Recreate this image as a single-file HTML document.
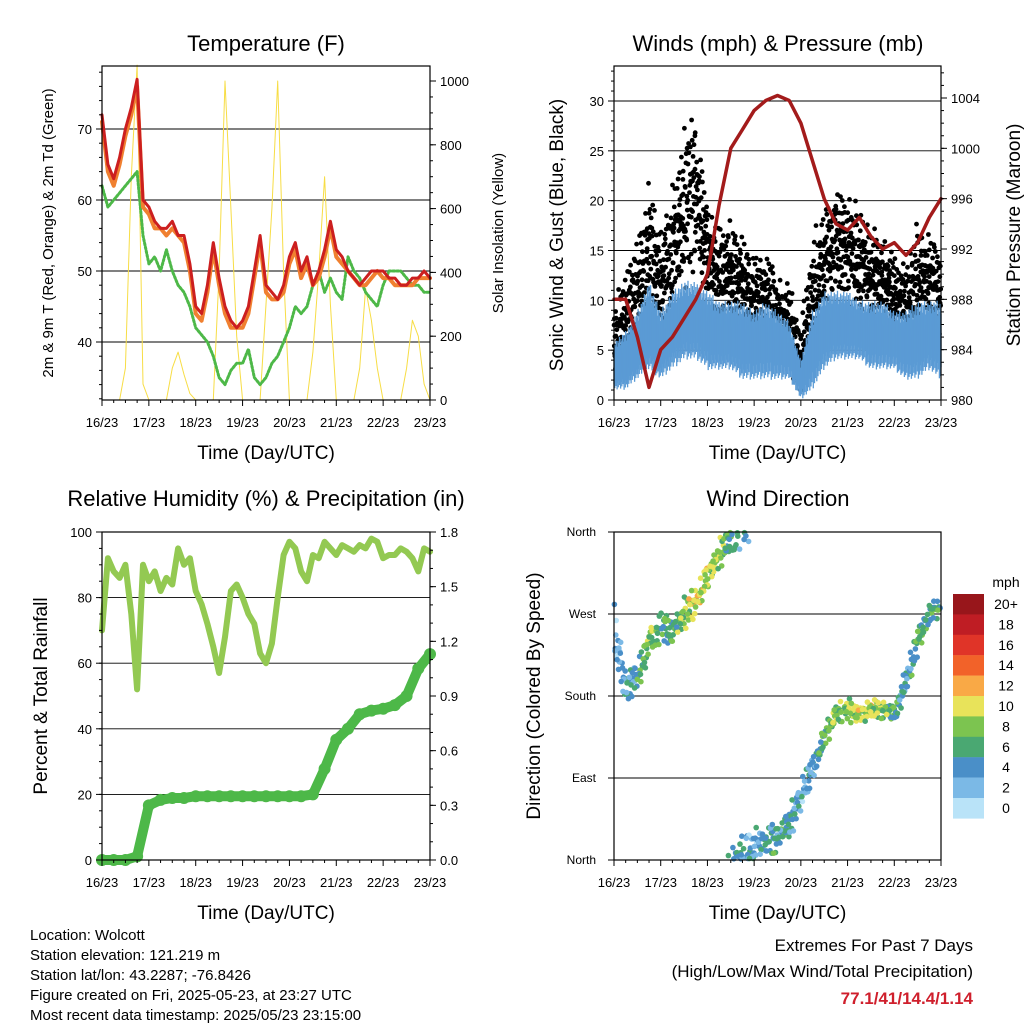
<!DOCTYPE html>
<html><head><meta charset="utf-8">
<style>
html,body{margin:0;padding:0;background:#fff;}
svg{display:block;font-family:"Liberation Sans",Arial,sans-serif;}
</style></head>
<body>
<svg id="root" width="1024" height="1024" viewBox="0 0 1024 1024" xmlns="http://www.w3.org/2000/svg"></svg>
<script>
// ---------- DATA (3-hourly, 16/23 -> 23/23) ----------
const xTickLabels = ["16/23","17/23","18/23","19/23","20/23","21/23","22/23","23/23"];
const tempRed = [72,65,63,66,70,73,77,60,59,57,56,56,57,55,55,51,45,44,48,54,49,45,43,42,43,45,50,55,48,47,46,48,52,54,50,52,48,50,53,57,53,52,50,49,48,49,50,50,50,49,49,48,48,49,49,50,49];
const tempOrange = [71,64,62,65,69,72,76,59,58,56,56,55,56,55,54,50,44,43,47,53,48,44,42,42,42,44,49,54,47,46,46,47,51,53,49,51,48,49,52,56,52,51,50,49,48,48,49,50,49,49,48,48,48,48,49,49,49];
const dewGreen = [62,59,60,61,62,63,64,55,51,52,50,53,50,48,47,45,42,41,40,38,35,34,36,37,37,39,35,34,35,37,38,40,42,45,44,45,48,50,47,49,47,46,52,50,49,47,46,45,48,50,50,50,49,48,48,47,47];
const solar = [0,0,0,0,100,700,1050,50,0,0,0,0,100,150,80,20,0,0,0,0,400,1000,600,200,0,0,0,0,300,600,1000,400,0,0,0,0,150,400,700,300,0,0,0,0,100,350,250,100,0,0,0,0,100,250,200,50,0];
const tempTicks = [40,50,60,70];
const solarTicks = [0,200,400,600,800,1000];
// 6-hourly series
const pressure = [988,988,985,981,984,985,986.5,988,990,995.5,1000,1001.5,1003,1003.8,1004.2,1003.8,1002,999,996,994,993.5,994.5,993,992,992.5,991.5,992.5,994.5,996];
const gustHi = [10,14,17,23,18,22,28,31,20,18,19,17,15,16,13,12,8,17,20,22,21,20,18,17,15,14,19,17,17];
const gustLo = [1,2,4,7,5,8,10,12,9,7,7,6,5,5,4,3,0,3,8,10,9,8,7,7,6,5,5,7,5];
const windHi = [6,7,9,12,9,11,12,12,11,10,10,10,9,10,9,8,4,9,11,11,11,10,10,10,9,9,10,10,10];
const windLo = [1,1,2,3,2,3,4,4,3,3,3,2,2,2,2,2,0,1,3,4,4,4,3,3,3,2,2,3,2];
const windTicks = [0,5,10,15,20,25,30];
const pressTicks = [980,984,988,992,996,1000,1004];
const rhVals = [70,92,88,86,90,75,52,90,85,88,82,86,84,95,90,92,82,78,72,65,57,68,82,84,80,75,72,63,60,66,80,93,97,95,88,85,93,92,97,95,93,96,95,94,96,95,98,97,92,93,93,95,94,92,88,95,94];
const precip = [0,0,0,0.02,0.3,0.33,0.34,0.34,0.35,0.35,0.35,0.35,0.35,0.35,0.35,0.35,0.35,0.35,0.36,0.5,0.66,0.72,0.8,0.82,0.83,0.85,0.9,1.05,1.13];
const rhTicks = [0,20,40,60,80,100];
const precipTicks = ["0.0","0.3","0.6","0.9","1.2","1.5","1.8"];
const dirUnwrapped = [250,190,200,240,255,250,270,285,310,335,355,365,375,380,385,400,430,460,495,520,525,520,525,525,520,555,600,630,640];
const dirSpread = [60,20,20,25,20,20,20,20,20,20,25,25,25,20,20,20,20,20,15,15,15,12,12,12,12,20,20,15,12];
const dirSpeed = [2,4,5,8,6,6,8,10,9,8,6,4,3,4,5,5,3,4,6,8,8,9,9,8,6,4,6,6,5];
const dirLabels = ["North","East","South","West","North"];
const cbLabels = ["20+","18","16","14","12","10","8","6","4","2","0"];
const cbColors = ["#98161b","#bf1d24","#e03428","#f26229","#f9a946","#e8e35a","#7cc450","#4aa872","#4a8fc8","#7bb9e6","#b9e3f8"];

// ---------- helpers ----------
const NS="http://www.w3.org/2000/svg";
const root=document.getElementById('root');
function mk(tag,attrs,parent){const e=document.createElementNS(NS,tag);for(const k in attrs)e.setAttribute(k,attrs[k]);(parent||root).appendChild(e);return e;}
function txt(s,x,y,size,anchor,parent,extra){const e=mk('text',Object.assign({x:x,y:y,'font-size':size,'text-anchor':anchor||'middle',fill:'#000'},extra||{}),parent);e.textContent=s;return e;}
function lin(d0,d1,r0,r1){return v=>r0+(v-d0)*(r1-r0)/(d1-d0);}
// van der Corput low-discrepancy sequence (deterministic sampling positions)
function vdc(n,b){let r=0,f=1/b;while(n>0){r+=f*(n%b);n=Math.floor(n/b);f/=b;}return r;}

function panelFrame(name){
  const g=mk('g',{});
  
  
  return g;
}
function box(g,L,T,R,B){
  const r=mk('rect',{x:L,y:T,width:R-L,height:B-T,fill:'none',stroke:'#000','stroke-width':1.2},g);
  
  
}
function xAxis(g,L,R,B){
  const xs=lin(0,7,L,R);
  const ax=mk('g',{},g);
  
  
  for(let i=0;i<=28;i++){const x=L+(R-L)*i/28;mk('line',{x1:x,x2:x,y1:B,y2:B+(i%4==0?6:3),stroke:'#000','stroke-width':1},ax);}
  xTickLabels.forEach((s,i)=>{const t=txt(s,xs(i),B+27,13,'middle',ax);});
  const t=txt('Time (Day/UTC)',(L+R)/2,B+59,19,'middle',ax);
  
  
}
function yAxis(g,side,X,T,B,scale,ticks,labels,minorStep,minorRange,name){
  const ax=mk('g',{},g);
  
  
  const dir=side=='left'?-1:1;
  if(minorStep){for(let v=minorRange[0];v<=minorRange[1]+1e-9;v+=minorStep){const y=scale(v);if(y<T-0.5||y>B+0.5)continue;mk('line',{x1:X,x2:X+dir*3,y1:y,y2:y,stroke:'#000','stroke-width':1},ax);}}
  ticks.forEach((v,i)=>{const y=scale(v);mk('line',{x1:X,x2:X+dir*6,y1:y,y2:y,stroke:'#000','stroke-width':1},ax);
    const t=txt(labels?labels[i]:String(v),X+dir*10,y+5,13,side=='left'?'end':'start',ax);
    
    });
}
function grid(g,L,R,ys){ys.forEach(y=>{mk('line',{x1:L,x2:R,y1:y,y2:y,stroke:'#000','stroke-width':0.9},g);});}
function vtitle(g,s,x,y,size,name){const t=txt(s,x,y,size,'middle',g,{transform:'rotate(-90 '+x+' '+y+')'});return t;}
function title(g,s,x,y){const t=txt(s,x,y,22,'middle',g);}
function poly(g,pts,color,w,name){const p=mk('polyline',{points:pts.map(p=>p[0].toFixed(1)+','+p[1].toFixed(1)).join(' '),fill:'none',stroke:color,'stroke-width':w,'stroke-linejoin':'round','stroke-linecap':'round'},g);return p;}

// ---------- Panel 1: Temperature ----------
(function(){
  const L=102,T=66,R=430,B=400;
  const g=panelFrame('temperature-panel');
  const y=lin(40,70,342,129), ys=lin(0,1000,400,81);
  const xt=lin(0,tempRed.length-1,L,R);
  grid(g,L,R,tempTicks.map(y));
  poly(g,solar.map((v,i)=>[xt(i),ys(v)]),'#f7dd45',1,'solar-insolation-line');
  poly(g,dewGreen.map((v,i)=>[xt(i),y(v)]),'#4db848',3,'dewpoint-line').setAttribute('stroke-dasharray','2 2');
  poly(g,tempOrange.map((v,i)=>[xt(i),y(v)]),'#f08030',4,'temp-9m-line');
  poly(g,tempRed.map((v,i)=>[xt(i),y(v)]),'#cc1f1f',3,'temp-2m-line');
  box(g,L,T,R,B);
  yAxis(g,'left',L,T,B,y,tempTicks,null,2,[32,78],'temp-y-axis');
  yAxis(g,'right',R,T,B,ys,solarTicks,null,50,[0,1050],'solar-y-axis');
  xAxis(g,L,R,B);
  title(g,'Temperature (F)',266,51);
  vtitle(g,'2m & 9m T (Red, Orange) & 2m Td (Green)',53,233,15,'temp-y-axis-title');
  vtitle(g,'Solar Insolation (Yellow)',503,233,15,'solar-y-axis-title');
})();

// ---------- Panel 2: Winds & Pressure ----------
(function(){
  const L=614,T=66,R=941,B=400;
  const g=panelFrame('winds-panel');
  const y=lin(0,30,400,101), yp=lin(980,1004,400,98);
  const n=gustHi.length, xt=lin(0,n-1,L,R);
  grid(g,L,R,windTicks.map(y));
  const gd=mk('g',{fill:'#000'},g);
  
  
  let k=0;
  const N=(n-1)*55;
  for(let m=1;m<=N;m++){
    const pos=vdc(m,3)*(n-1);const i=Math.min(n-2,Math.floor(pos));const t=pos-i;
    const hi=gustHi[i]+(gustHi[i+1]-gustHi[i])*t, lo=gustLo[i]+(gustLo[i+1]-gustLo[i])*t;
    const f=(vdc(m,2)+vdc(m,5))/2;
    mk('circle',{cx:xt(pos).toFixed(1),cy:y(lo+(hi-lo)*f).toFixed(1),r:2.4},gd);
  }
  // ragged blue wind band
  const wd=mk('g',{stroke:'#5b9bd5','stroke-width':1.3},g);
  
  
  const NW=(n-1)*30;
  for(let m=0;m<=NW;m++){
    const pos=m/NW*(n-1);const i=Math.min(n-2,Math.floor(pos));const t=pos-i;
    const hi=windHi[i]+(windHi[i+1]-windHi[i])*t, lo=windLo[i]+(windLo[i+1]-windLo[i])*t;
    const a=vdc(m+1,2), b=vdc(m+1,3);
    const top=lo+(hi-lo)*(0.6+0.4*a), bot=lo+(hi-lo)*(0.35*b);
    mk('line',{x1:xt(pos).toFixed(1),x2:xt(pos).toFixed(1),y1:y(top).toFixed(1),y2:y(bot).toFixed(1)},wd);
  }
  poly(g,pressure.map((v,i)=>[xt(i),yp(v)]),'#a31b1b',3.5,'pressure-line');
  box(g,L,T,R,B);
  yAxis(g,'left',L,T,B,y,windTicks,null,1,[0,33],'wind-y-axis');
  yAxis(g,'right',R,T,B,yp,pressTicks,null,1,[980,1006],'pressure-y-axis');
  xAxis(g,L,R,B);
  title(g,'Winds (mph) & Pressure (mb)',778,51);
  vtitle(g,'Sonic Wind & Gust (Blue, Black)',563,235,19,'wind-y-axis-title');
  vtitle(g,'Station Pressure (Maroon)',1020,235,19,'pressure-y-axis-title');
})();

// ---------- Panel 3: RH & Precip ----------
(function(){
  const L=102,T=532,R=430,B=860;
  const g=panelFrame('humidity-panel');
  const y=lin(0,100,860,532), yp=lin(0,1.8,860,532);
  grid(g,L,R,rhTicks.map(y));
  const xr=lin(0,rhVals.length-1,L,R);
  poly(g,rhVals.map((v,i)=>[xr(i),y(v)]),'#93c952',6,'rh-line');
  const xp=lin(0,precip.length-1,L,R);
  poly(g,precip.map((v,i)=>[xp(i),yp(v)]),'#4db848',10,'precip-line');
  const pd=mk('g',{fill:'#4db848'},g);
  
  
  precip.forEach((v,i)=>{mk('circle',{cx:xp(i),cy:yp(v),r:6},pd);});
  box(g,L,T,R,B);
  yAxis(g,'left',L,T,B,y,rhTicks,null,5,[0,100],'rh-y-axis');
  yAxis(g,'right',R,T,B,yp,precipTicks.map(Number),precipTicks,0.1,[0,1.8],'precip-y-axis');
  xAxis(g,L,R,B);
  title(g,'Relative Humidity (%) & Precipitation (in)',266,506);
  vtitle(g,'Percent & Total Rainfall',47,696,19,'rh-y-axis-title');
})();

// ---------- Panel 4: Wind Direction ----------
(function(){
  const L=614,T=532,R=941,B=860;
  const g=panelFrame('wind-direction-panel');
  const y=lin(0,360,860,532);
  grid(g,L,R,[0,90,180,270,360].map(y));
  const n=dirUnwrapped.length, xt=lin(0,n-1,L,R);
  const dd=mk('g',{},g);
  
  
  const N=(n-1)*22;
  for(let m=1;m<=N;m++){
    const pos=vdc(m,3)*(n-1);const i=Math.min(n-2,Math.floor(pos));const t=pos-i;
    const d=dirUnwrapped[i]+(dirUnwrapped[i+1]-dirUnwrapped[i])*t;
    const sp=dirSpread[i]+(dirSpread[i+1]-dirSpread[i])*t;
    const s=dirSpeed[i]+(dirSpeed[i+1]-dirSpeed[i])*t;
    const f=(vdc(m,2)+vdc(m,5))/2, f2=vdc(m,7);
    let dv=(d+(f-0.5)*2*sp)%360;if(dv<0)dv+=360;
    const sv=Math.max(0,s+(f2-0.5)*5);
    const bin=Math.min(10,Math.round(sv/2));
    mk('circle',{cx:xt(pos).toFixed(1),cy:y(dv).toFixed(1),r:2.8,fill:cbColors[10-bin]},dd);
  }
  box(g,L,T,R,B);
  const ax=mk('g',{},g);
  
  
  dirLabels.forEach((s,i)=>{const yy=y(i*90);mk('line',{x1:L,x2:L-6,y1:yy,y2:yy,stroke:'#000'},ax);const t=txt(s,L-18,yy+4,12,'end',ax);});
  xAxis(g,L,R,B);
  title(g,'Wind Direction',778,506);
  vtitle(g,'Direction (Colored By Speed)',540,696,19,'direction-y-axis-title');
  const cb=mk('g',{},g);
  
  
  const u=txt('mph',1006,587,14,'middle',cb);
  
  
  cbColors.forEach((c,i)=>{mk('rect',{x:953,y:594+i*20.4,width:31,height:20.6,fill:c},cb);
    const t=txt(cbLabels[i],1006,609+i*20.4,14,'middle',cb);
    
    });
})();

// ---------- Footer ----------
(function(){
  const g=mk('g',{});
  
  
  ["Location: Wolcott","Station elevation: 121.219 m","Station lat/lon: 43.2287; -76.8426","Figure created on Fri, 2025-05-23, at 23:27 UTC","Most recent data timestamp: 2025/05/23 23:15:00"].forEach((s,i)=>{txt(s,30,940+i*20,15,'start',g);});
  const e=mk('g',{});
  
  
  txt('Extremes For Past 7 Days',973,951,17,'end',e);
  txt('(High/Low/Max Wind/Total Precipitation)',973,977,17,'end',e);
  txt('77.1/41/14.4/1.14',973,1004,17,'end',e,{fill:'#cf1f2c','font-weight':'bold'});
})();
</script>
</body></html>
